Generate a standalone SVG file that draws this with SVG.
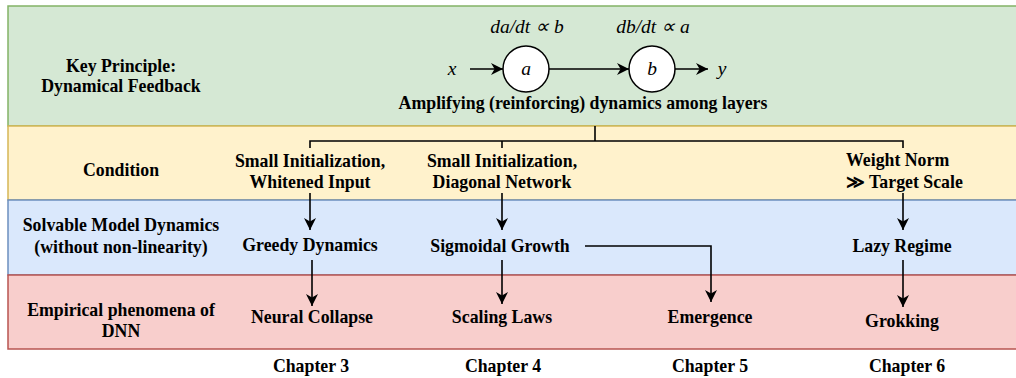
<svg xmlns="http://www.w3.org/2000/svg" width="1016" height="378" viewBox="0 0 1016 378">
<style>
.t{font-family:'Liberation Serif','Times New Roman',serif;font-weight:bold;font-size:17.8px;fill:#000;text-anchor:middle}
.m{font-family:'Liberation Serif','Times New Roman',serif;font-style:italic;font-size:19.5px;fill:#000;text-anchor:middle}
.c{fill:none;stroke:#000;stroke-width:1.6}
.a{fill:none;stroke:#000;stroke-width:1.6;marker-end:url(#ah)}
</style>
<defs>
<marker id="ah" markerUnits="userSpaceOnUse" viewBox="0 0 10 10" refX="10" refY="5" markerWidth="12" markerHeight="12" orient="auto">
<path d="M0,0 L10,5 L0,10 L3,5 z" fill="#000"/>
</marker>
</defs>
<g id="bands">
<rect id="band-principle" x="8" y="6" width="1012" height="120" fill="#d5e8d4" stroke="#82b366" stroke-width="1.5"/>
<rect id="band-condition" x="8" y="126" width="1012" height="74" fill="#fff2cc" stroke="#d6b656" stroke-width="1.5"/>
<rect id="band-dynamics" x="8" y="200" width="1012" height="75" fill="#dae8fc" stroke="#6c8ebf" stroke-width="1.5"/>
<rect id="band-phenomena" x="8" y="275" width="1012" height="74" fill="#f8cecc" stroke="#b85450" stroke-width="1.5"/>
</g>
<g id="row-labels">
<text class="t" x="121" y="72">Key Principle:</text>
<text class="t" x="121" y="92">Dynamical Feedback</text>
<text class="t" x="121" y="176">Condition</text>
<text class="t" x="121" y="231">Solvable Model Dynamics</text>
<text class="t" x="121" y="253">(without non-linearity)</text>
<text class="t" x="121" y="316">Empirical phenomena of</text>
<text class="t" x="121" y="337">DNN</text>
</g>
<g id="connectors">
<path class="a" d="M470,69 L503,69"/>
<path class="a" d="M549,69 L629,69"/>
<path class="a" d="M675,69 L708,69"/>
<path class="c" d="M595,126 L595,141 M310,148 L310,141 L903,141 L903,148 M502,141 L502,148"/>
<path class="a" d="M310,193 L310,230"/>
<path class="a" d="M502,193 L502,230"/>
<path class="a" d="M903,193 L903,230"/>
<path class="a" d="M312,260 L312,306"/>
<path class="a" d="M502,260 L502,304"/>
<path class="a" d="M585,246 L711,246 L711,302"/>
<path class="a" d="M903,260 L903,307"/>
</g>
<g id="node-x"><text class="m" x="452" y="75">x</text></g>
<g id="node-a">
<circle cx="526" cy="69" r="23" fill="#fff" stroke="#000" stroke-width="1.5"/>
<text class="m" x="526" y="75">a</text>
<text class="m" x="527" y="33">da/dt ∝ b</text>
</g>
<g id="node-b">
<circle cx="652" cy="69" r="23" fill="#fff" stroke="#000" stroke-width="1.5"/>
<text class="m" x="652" y="75">b</text>
<text class="m" x="653" y="33">db/dt ∝ a</text>
</g>
<g id="node-y"><text class="m" x="722" y="75">y</text></g>
<g id="node-amplifying"><text class="t" x="583" y="109">Amplifying (reinforcing) dynamics among layers</text></g>
<g id="node-cond1"><text class="t" x="310" y="167">Small Initialization,</text><text class="t" x="310" y="188">Whitened Input</text></g>
<g id="node-cond2"><text class="t" x="502" y="167">Small Initialization,</text><text class="t" x="502" y="188">Diagonal Network</text></g>
<g id="node-cond4"><text class="t" x="846" y="166" style="text-anchor:start">Weight Norm</text><text class="t" x="846" y="188" style="text-anchor:start">≫ Target Scale</text></g>
<g id="node-greedy"><text class="t" x="310" y="251">Greedy Dynamics</text></g>
<g id="node-sigmoidal"><text class="t" x="500" y="252">Sigmoidal Growth</text></g>
<g id="node-lazy"><text class="t" x="902" y="252">Lazy Regime</text></g>
<g id="node-collapse"><text class="t" x="312" y="323">Neural Collapse</text></g>
<g id="node-scaling"><text class="t" x="502" y="323">Scaling Laws</text></g>
<g id="node-emergence"><text class="t" x="710" y="323">Emergence</text></g>
<g id="node-grokking"><text class="t" x="902" y="327">Grokking</text></g>
<g id="chapters">
<text class="t" x="311" y="372">Chapter 3</text>
<text class="t" x="503" y="372">Chapter 4</text>
<text class="t" x="710" y="372">Chapter 5</text>
<text class="t" x="907" y="372">Chapter 6</text>
</g>
</svg>
